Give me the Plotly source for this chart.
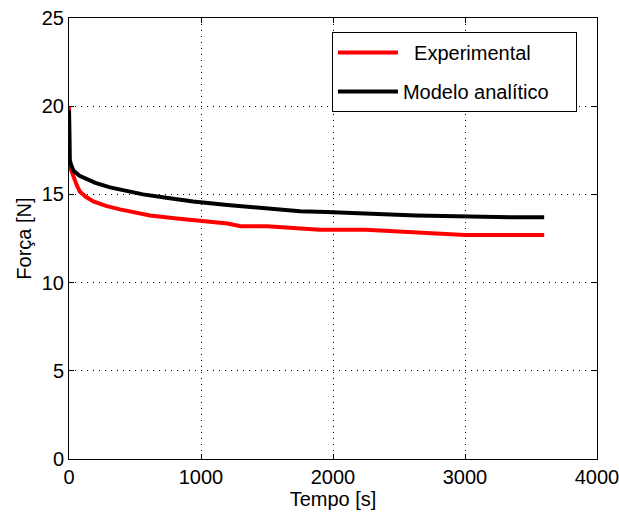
import plotly.graph_objects as go

# Experimental
t_exp = [0, 0, 5, 15, 33, 60, 83, 130, 184, 280, 386, 500, 614, 800, 992, 1200,
         1300, 1500, 1700, 1850, 1900, 2250, 2600, 2962, 3000, 3600]
f_exp = [20, 17.4, 16.8, 16.4, 16.0, 15.5, 15.15, 14.85, 14.6, 14.35, 14.15, 14.0,
         13.8, 13.65, 13.5, 13.35, 13.2, 13.2, 13.1, 13.0, 13.0, 13.0, 12.85, 12.7,
         12.7, 12.7]

# Modelo analítico
t_mod = [0, 0, 5, 15, 33, 80, 134, 200, 311, 450, 561, 750, 940, 1200, 1447,
         1750, 1950, 2230, 2630, 3340, 3600]
f_mod = [19.75, 17.5, 17.0, 16.7, 16.35, 16.05, 15.85, 15.65, 15.4, 15.2, 15.0,
         14.8, 14.6, 14.4, 14.25, 14.05, 14.0, 13.9, 13.8, 13.7, 13.7]

series_names = ["Experimental", "Modelo analítico"]

x_ticks = [0, 1000, 2000, 3000, 4000]
y_ticks = [0, 5, 10, 15, 20, 25]

font = "Liberation Sans, Arial, Helvetica, sans-serif"
fs = 20
nb = "\u00a0"

fig = go.Figure()
fig.add_trace(go.Scatter(x=t_exp, y=f_exp, mode="lines",
                         name=nb * 2 + series_names[0] + nb * 2,
                         legendgroup="a",
                         line=dict(color="#ff0000", width=4)))
fig.add_trace(go.Scatter(x=t_mod, y=f_mod, mode="lines",
                         name=series_names[1] + nb * 4,
                         legendgroup="b",
                         line=dict(color="#000000", width=4)))

axis_common = dict(
    showline=True, linecolor="black", linewidth=1, mirror="allticks",
    ticks="inside", ticklen=5, tickcolor="black",
    showgrid=True, gridcolor="black", gridwidth=1, griddash="1px,5px",
    zeroline=False, automargin=False, ticklabeloverflow="allow",
    tickfont=dict(size=fs, color="black", family=font),
)

fig.update_xaxes(range=[0, 4000], tickvals=x_ticks,
                 title=dict(text="Tempo [s]", font=dict(size=fs, color="black", family=font), standoff=0),
                 **axis_common)
fig.update_yaxes(range=[0, 25], tickvals=y_ticks,
                 title=dict(text="Força [N]", font=dict(size=fs, color="black", family=font), standoff=4),
                 **axis_common)

fig.update_layout(
    width=619, height=512,
    margin=dict(l=69, r=22, t=18, b=53, autoexpand=False),
    paper_bgcolor="white", plot_bgcolor="white",
    font=dict(family=font, size=fs, color="black"),
    showlegend=True,
    legend=dict(x=0.498, y=0.968, xanchor="left", yanchor="top",
                bordercolor="black", borderwidth=1, bgcolor="white",
                font=dict(size=fs, color="black", family=font),
                itemwidth=60, tracegroupgap=10),
)

# remove the page's default 8px body margin so the figure fills the window
fig.write_html("out.html", config={"displayModeBar": False},
               post_script="document.body.style.margin='0';")
